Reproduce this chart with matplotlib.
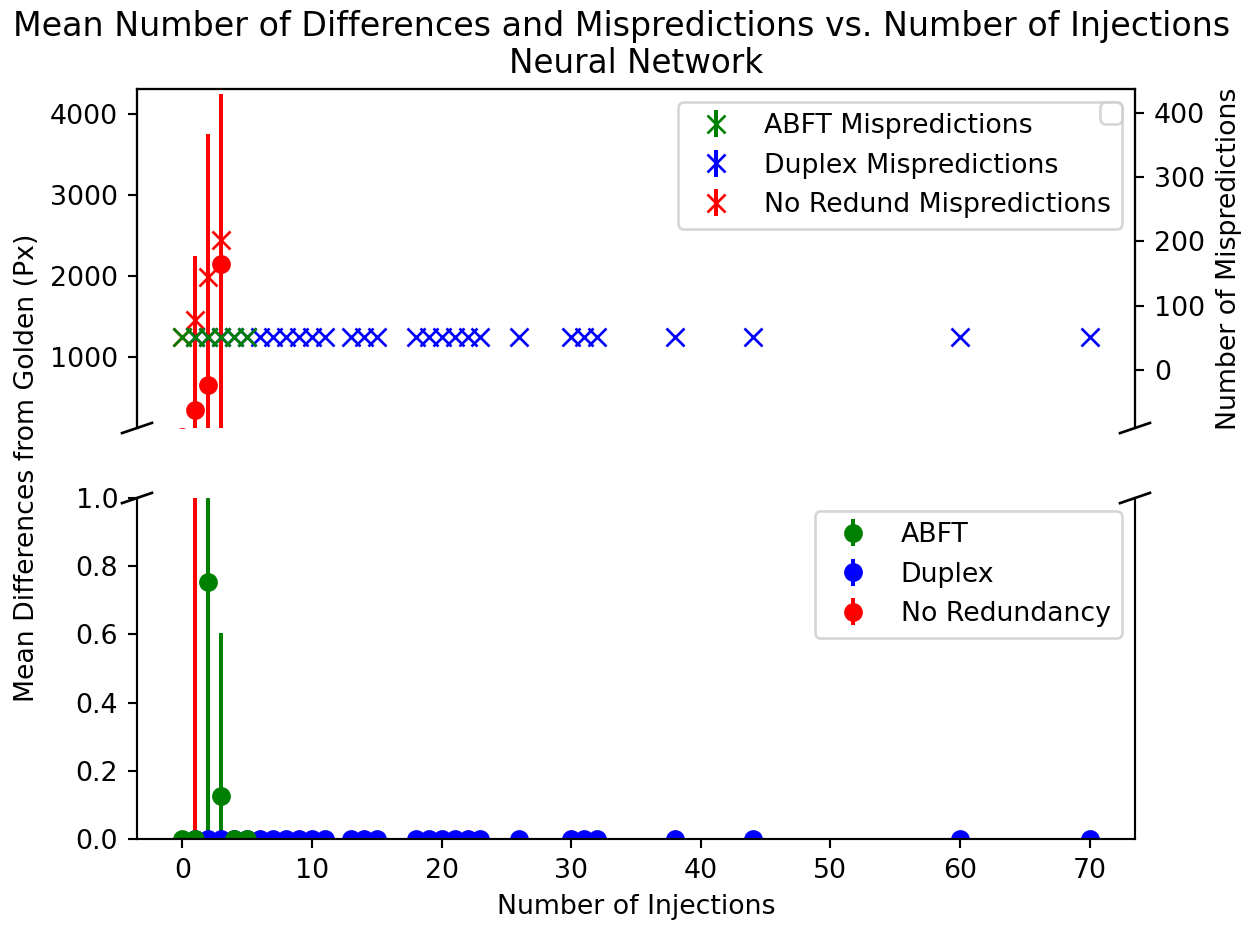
import matplotlib
matplotlib.use("Agg")
import matplotlib.pyplot as plt

# ---------------- data ----------------
abft_x = [0, 1, 2, 3, 4, 5]
abft_mean = [0, 0, 0.755, 0.125, 0, 0]
abft_err = [0, 0, 1.05, 0.48, 0, 0]
abft_mispred = [51, 51, 51, 51, 51, 51]

duplex_x = [1, 2, 3, 4, 5, 6, 7, 8, 9, 10, 11, 13, 14, 15, 18, 19, 20, 21, 22, 23,
            26, 30, 31, 32, 38, 44, 60, 70]
duplex_mean = [0] * len(duplex_x)
duplex_err = [0] * len(duplex_x)
duplex_mispred = [51] * len(duplex_x)

noredund_x = [0, 1, 2, 3]
noredund_mean = [20, 350, 656, 2150]
noredund_err = [0, 1900, 3100, 2090]
noredund_mispred = [51, 78, 145, 203]

suptitle = "Mean Number of Differences and Mispredictions vs. Number of Injections"
subtitle = "Neural Network"

# ---------------- figure ----------------
W, H = 1251, 926
DPI = 193
fig = plt.figure(figsize=(W / DPI, H / DPI), dpi=DPI)

left = 137 / W
width = (1135 - 137) / W
ax_top = fig.add_axes([left, 1 - 428 / H, width, (428 - 89) / H])
ax_bot = fig.add_axes([left, 1 - 839 / H, width, (839 - 498) / H], sharex=ax_top)
tw = ax_top.twinx()

# Mean differences (circles with error bars) in both halves
for ax in (ax_top, ax_bot):
    ax.errorbar(noredund_x, noredund_mean, yerr=noredund_err, fmt='o', color='red')
    ax.errorbar(duplex_x, duplex_mean, yerr=duplex_err, fmt='o', color='blue')
    ax.errorbar(abft_x, abft_mean, yerr=abft_err, fmt='o', color='green')

h_r = ax_bot.containers[0]
h_b = ax_bot.containers[1]
h_g = ax_bot.containers[2]

# Mispredictions on twin axis
m_r = tw.errorbar(noredund_x, noredund_mispred, yerr=[0] * len(noredund_x), fmt='x',
                  color='red', markersize=7)
m_b = tw.errorbar(duplex_x, duplex_mispred, yerr=[0] * len(duplex_x), fmt='x',
                  color='blue', markersize=7)
m_g = tw.errorbar(abft_x, abft_mispred, yerr=[0] * len(abft_x), fmt='x',
                  color='green', markersize=7)

ax_top.set_ylim(125, 4305)
tw.set_ylim(-90.3, 437.3)
ax_bot.set_ylim(0, 1.0)
ax_bot.set_xticks([0, 10, 20, 30, 40, 50, 60, 70])

# broken axis styling
ax_top.spines['bottom'].set_visible(False)
tw.spines['bottom'].set_visible(False)
ax_bot.spines['top'].set_visible(False)
ax_top.tick_params(axis='x', which='both', bottom=False, top=False,
                   labelbottom=False, labeltop=False)

d = .015
kw = dict(transform=ax_top.transAxes, color='k', clip_on=False, lw=1.0)
ax_top.plot((-d, +d), (-d, +d), **kw)
ax_top.plot((1 - d, 1 + d), (-d, +d), **kw)
kw.update(transform=ax_bot.transAxes)
ax_bot.plot((-d, +d), (1 - d, 1 + d), **kw)
ax_bot.plot((1 - d, 1 + d), (1 - d, 1 + d), **kw)

# legends
ax_top.legend([m_g, m_b, m_r],
              ["ABFT Mispredictions", "Duplex Mispredictions", "No Redund Mispredictions"],
              loc='upper right')
tw.legend(handles=[], loc='upper right')
ax_bot.legend([h_g, h_b, h_r], ["ABFT", "Duplex", "No Redundancy"], loc='upper right')

# titles and labels
fig.text(621.5 / W, 1 - 36 / H, suptitle, ha='center', va='baseline', fontsize=12.4)
ax_top.set_title(subtitle, fontsize=12.2)
ax_bot.set_xlabel("Number of Injections")
tw.set_ylabel("Number of Mispredictions")
fig.text(27 / W, 1 - 468 / H, "Mean Differences from Golden (Px)",
         rotation=90, ha='center', va='center')

fig.savefig("out.png", dpi=DPI)
